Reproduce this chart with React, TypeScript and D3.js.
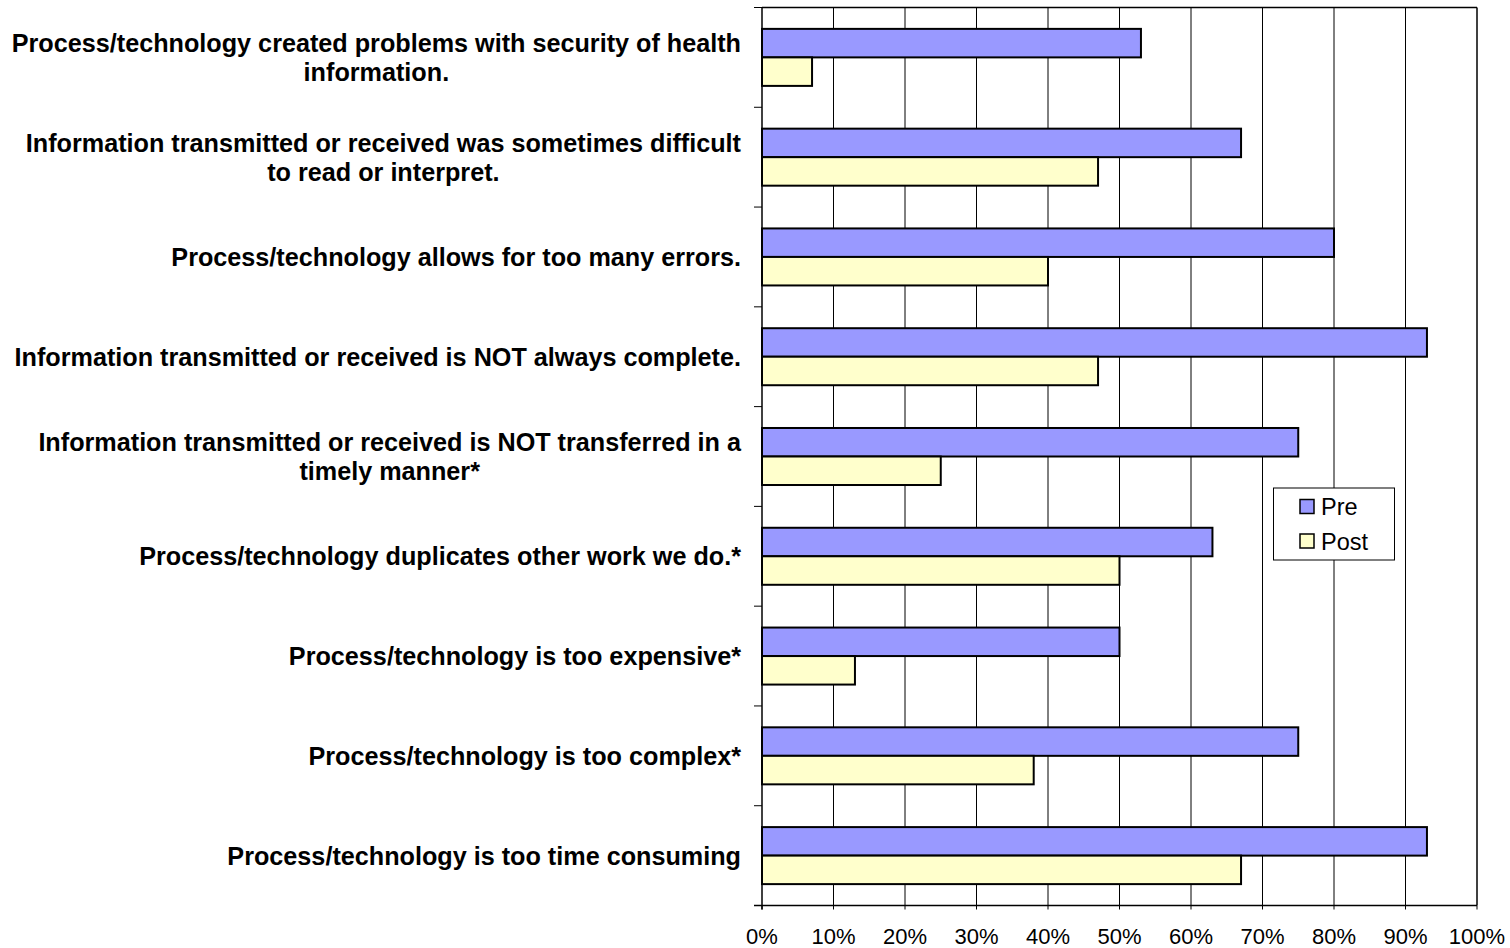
import React, { useMemo } from "react";
import * as d3 from "d3";

// Survey items (top to bottom), with the line breaks used in the axis labels
const categories: string[] = [
  "Process/technology created problems with security of health\ninformation.",
  "Information transmitted or received was sometimes difficult\nto read or interpret.",
  "Process/technology allows for too many errors.",
  "Information transmitted or received is NOT always complete.",
  "Information transmitted or received is NOT transferred in a\ntimely manner*",
  "Process/technology duplicates other work we do.*",
  "Process/technology is too expensive*",
  "Process/technology is too complex*",
  "Process/technology is too time consuming",
];

const seriesNames: string[] = ["Pre", "Post"];
const preValues: number[] = [53, 67, 80, 93, 75, 63, 50, 75, 93];
const postValues: number[] = [7, 47, 40, 47, 25, 50, 13, 38, 67];
const xTicks: number[] = [0, 10, 20, 30, 40, 50, 60, 70, 80, 90, 100];

const COLORS: Record<string, string> = { Pre: "#9999FF", Post: "#FFFFCC" };
const FONT = "'Liberation Sans', Arial, Helvetica, sans-serif";
const LABEL_SIZE = 25.2;

function measure(text: string, font: string): number {
  const c = document.createElement("canvas");
  const ctx = c.getContext("2d");
  if (!ctx) return text.length * 12;
  ctx.font = font;
  return ctx.measureText(text).width;
}

export default function App() {
  const W = 1510;
  const H = 948;
  const left = 762;
  const right = 1477;
  const top = 7.5;
  const bottom = 905.5;

  const x = d3.scaleLinear().domain([0, 100]).range([left, right]);
  const y = d3.scaleBand<string>().domain(categories).range([top, bottom]).padding(0);
  const ys = d3
    .scaleBand<string>()
    .domain(seriesNames)
    .range([0, y.bandwidth()])
    .paddingInner(0)
    .paddingOuter(0.75);

  const values: Record<string, number[]> = { Pre: preValues, Post: postValues };

  const labelLayout = useMemo(() => {
    const font = `bold ${LABEL_SIZE}px ${FONT}`;
    return categories.map((c) => {
      const lines = c.split("\n");
      const w = Math.max(...lines.map((l) => measure(l, font)));
      return { lines, w };
    });
  }, []);

  const labelRight = 741;
  const lineH = 29;

  return (
    <svg width={W} height={H} style={{ position: "absolute", left: 0, top: 0 }}>
      <rect x={0} y={0} width={W} height={H} fill="#fff" />

      {/* vertical gridlines */}
      {xTicks.slice(1, -1).map((t) => (
        <line key={`g${t}`} x1={x(t)} x2={x(t)} y1={top} y2={bottom} stroke="#000" strokeWidth={1} />
      ))}

      {/* plot frame: top and right */}
      <line x1={left} x2={right} y1={top} y2={top} stroke="#000" strokeWidth={1.5} />
      <line x1={right} x2={right} y1={top} y2={bottom} stroke="#000" strokeWidth={1.5} />

      {/* bars */}
      {categories.map((c, i) =>
        seriesNames.map((s) => (
          <rect
            key={`${c}-${s}`}
            x={x(0)}
            y={(y(c) as number) + (ys(s) as number)}
            width={x(values[s][i]) - x(0)}
            height={ys.bandwidth()}
            fill={COLORS[s]}
            stroke="#000"
            strokeWidth={2}
          />
        ))
      )}

      {/* category axis */}
      <line x1={left} x2={left} y1={top} y2={bottom + 4} stroke="#000" strokeWidth={1.5} />
      {d3.range(categories.length + 1).map((k) => {
        const yy = top + k * y.step();
        return <line key={`yt${k}`} x1={left - 8} x2={left} y1={yy} y2={yy} stroke="#000" strokeWidth={1} />;
      })}

      {/* value axis */}
      <line x1={left - 8} x2={right} y1={bottom} y2={bottom} stroke="#000" strokeWidth={1.5} />
      {xTicks.map((t) => (
        <g key={`xt${t}`}>
          <line x1={x(t)} x2={x(t)} y1={bottom} y2={bottom + 4} stroke="#000" strokeWidth={1} />
          <text
            x={x(t)}
            y={936}
            textAnchor="middle"
            dominantBaseline="central"
            fontFamily={FONT}
            fontSize={22}
            fill="#000"
          >
            {`${t}%`}
          </text>
        </g>
      ))}

      {/* category labels */}
      {categories.map((c, i) => {
        const { lines, w } = labelLayout[i];
        const cy = (y(c) as number) + y.bandwidth() / 2;
        const cx = labelRight - w / 2;
        const y0 = cy - ((lines.length - 1) * lineH) / 2;
        return (
          <text
            key={`lab${i}`}
            fontFamily={FONT}
            fontSize={LABEL_SIZE}
            fontWeight="bold"
            textAnchor="middle"
            fill="#000"
          >
            {lines.map((l, j) => (
              <tspan key={j} x={cx} y={y0 + j * lineH} dominantBaseline="central">
                {l}
              </tspan>
            ))}
          </text>
        );
      })}

      {/* legend */}
      <g>
        <rect x={1273.5} y={488} width={121} height={72} fill="#fff" stroke="#000" strokeWidth={1} />
        {seriesNames.map((s, i) => (
          <g key={`lg${s}`}>
            <rect
              x={1300}
              y={499.5 + i * 34.5}
              width={14}
              height={14}
              fill={COLORS[s]}
              stroke="#000"
              strokeWidth={1.5}
            />
            <text
              x={1321}
              y={507 + i * 34.5}
              dominantBaseline="central"
              fontFamily={FONT}
              fontSize={23.5}
              fill="#000"
            >
              {s}
            </text>
          </g>
        ))}
      </g>
    </svg>
  );
}
